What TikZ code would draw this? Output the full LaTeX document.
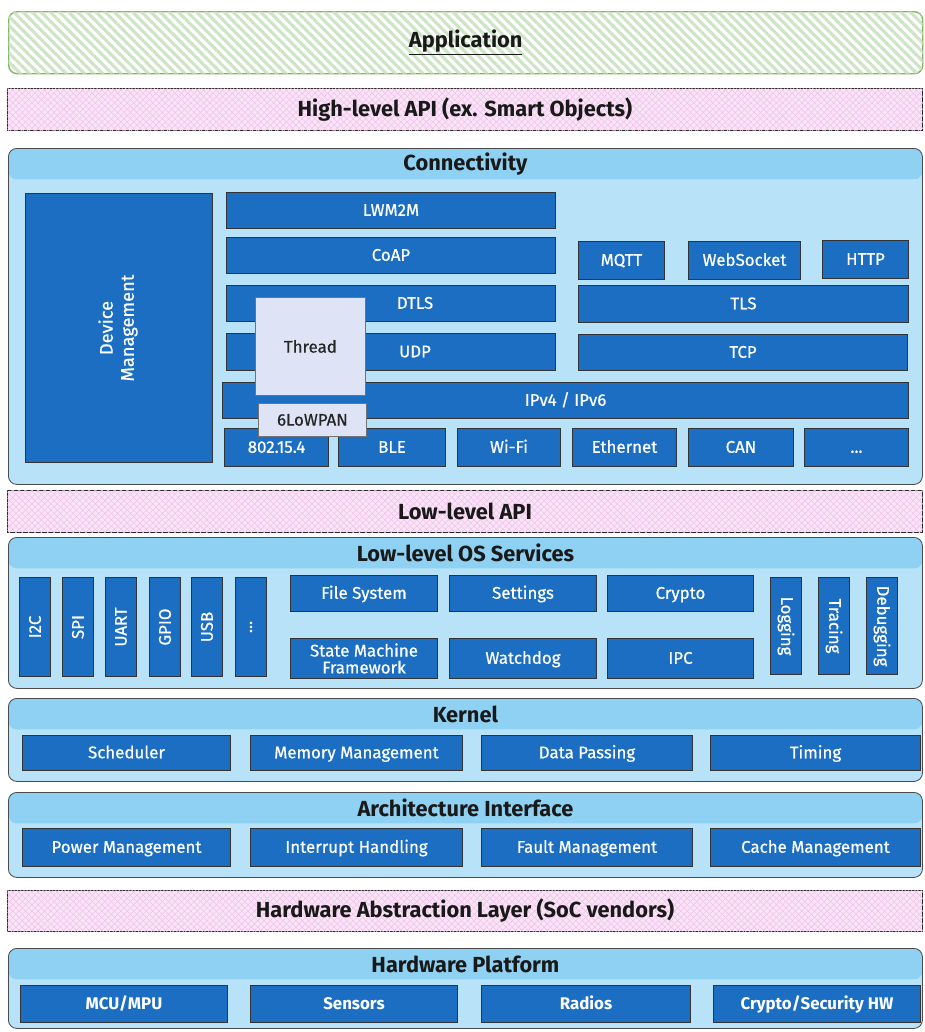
\documentclass[tikz,border=0pt]{standalone}
\usepackage{fontspec}
\setmainfont{Fira Sans}
\newfontfamily\medfont{Fira Sans}[FakeBold=0.6]
\usepackage{graphicx}
\usetikzlibrary{patterns.meta}
\definecolor{boxblue}{HTML}{1B6EC2}
\definecolor{layerblue}{HTML}{B8E2F7}
\definecolor{layerhead}{HTML}{8FD1F2}
\definecolor{apipink}{HTML}{FBE4F8}
\definecolor{apiline}{HTML}{EEC4E8}
\definecolor{appgreen}{HTML}{CDE5C5}
\definecolor{appedge}{HTML}{82B366}
\definecolor{threadfill}{HTML}{DEE4F5}

\begin{document}
\begin{tikzpicture}[x=0.025cm, y=-0.025cm,
	spot/.style args={#1/#2/#3/#4}{anchor=north west, at={(#1,#2)},
		minimum width={(#3-#1)*0.025cm}, minimum height={(#4-#2)*0.025cm}},
	blk/.style={draw=black!80, line width=0.7pt, fill=boxblue, text=white, inner sep=0pt,
		font=\medfont\fontsize{12}{13}\selectfont, align=center, text height=0.9em, text depth=0.15em},
	vblk/.style={blk, text height=, text depth=},
	hwblk/.style={blk, font=\bfseries\fontsize{12}{13}\selectfont},
	lite/.style={draw=black!55, line width=0.6pt, fill=threadfill, text=black!85, inner sep=0pt,
		font=\medfont\fontsize{12}{13}\selectfont},
	layer/.style={draw=black!70, line width=0.6pt, fill=layerblue, rounded corners=6pt, inner sep=0pt,
		path picture={\fill[layerhead] ([yshift=-0.775cm]path picture bounding box.north west)
			rectangle (path picture bounding box.north east);}},
	ttl/.style={font=\bfseries\fontsize{15.5}{18}\selectfont, text=black!90},
	api/.style={draw=black!85, line width=0.7pt, fill=apipink, inner sep=0pt,
		postaction={pattern={Lines[angle=45,distance=3.2pt,line width=0.4pt]}, pattern color=apiline},
		postaction={pattern={Lines[angle=-45,distance=3.2pt,line width=0.4pt]}, pattern color=apiline},
		font=\bfseries\fontsize{15.5}{18}\selectfont, text=black!90},
	appbox/.style={draw=appedge, line width=1pt, rounded corners=6pt, fill=white, inner sep=0pt,
		postaction={pattern={Lines[angle=-45,distance=4.6pt,line width=2.2pt]}, pattern color=appgreen},
		font=\bfseries\fontsize{15.5}{18}\selectfont, text=black!90}]
\useasboundingbox (0,0) rectangle (925,1032);

% top layers
\node[appbox, spot=8/11/922/73] (app) {\underline{Application}};
\node[api, spot=7/88/922/130] (hlapi) {High-level API (ex. Smart Objects)};

% connectivity
\node[layer, spot=8/148/922/484] (conn) {};
\node[ttl] (conntitle) at ([yshift=-0.4cm]conn.north) {Connectivity};
\node[vblk, spot=25/193/212/462, font=\medfont\fontsize{13}{15}\selectfont] (devmgmt)
	{\rotatebox{90}{\begin{tabular}{c}Device\\Management\end{tabular}}};
\node[blk, spot=226/192/555/228] (lwm2m) {LWM2M};
\node[blk, spot=226/237/555/273] (coap) {CoAP};
\node[blk, spot=226/285/555/321] (dtls) {\hspace*{1.2cm}DTLS};
\node[blk, spot=226/333/555/370] (udp) {\hspace*{1.2cm}UDP};
\node[blk, spot=578/241/664/279] (mqtt) {MQTT};
\node[blk, spot=688/241/800/279] (websock) {WebSocket};
\node[blk, spot=822/240/908/278] (http) {HTTP};
\node[blk, spot=578/285/908/322] (tls) {TLS};
\node[blk, spot=578/334/907/370] (tcp) {TCP};
\node[blk, spot=222/382/908/418] (ip) {IPv4 / IPv6};
\foreach \nm/\xa/\xb/\txt in {ieee/224/328/{802.15.4}, ble/338/445/BLE, wifi/457/560/Wi-Fi,
	eth/572/676/Ethernet, can/688/793/CAN, linkmore/804/908/{...}}
	\node[blk, spot=\xa/428/\xb/466] (\nm) {\txt};
\node[lite, spot=255/297/365/395] (thread) {Thread};
\node[lite, spot=258/403/366/436] (lowpan) {6LoWPAN};

% low-level API + OS services
\node[api, spot=7/490/922/532] (llapi) {Low-level API};
\node[layer, spot=8/537/922/688] (os) {};
\node[ttl] (ostitle) at ([yshift=-0.4cm]os.north) {Low-level OS Services};
\foreach \nm/\xa/\txt in {i2c/19/I2C, spi/62/SPI, uart/105/UART, gpio/149/GPIO, usb/191/USB, drvmore/235/{...}}
	\node[vblk, spot=\xa/577/\xa+31/676] (\nm) {\rotatebox{90}{\txt}};
\node[blk, spot=290/575/437/611] (fs) {File System};
\node[blk, spot=449/575/596/611] (settings) {Settings};
\node[blk, spot=607/575/753/611] (crypto) {Crypto};
\node[vblk, spot=290/638/437/678] (smf) {State Machine\\[-1pt]Framework};
\node[blk, spot=449/638/596/678] (wdog) {Watchdog};
\node[blk, spot=607/638/753/678] (ipc) {IPC};
\foreach \nm/\xa/\txt in {logging/770/Logging, tracing/818/Tracing, debugging/866/Debugging}
	\node[vblk, spot=\xa/577/\xa+31/674] (\nm) {\rotatebox{-90}{\txt}};

% kernel
\node[layer, spot=8/698/922/781] (kernel) {};
\node[ttl] (kerneltitle) at ([yshift=-0.4cm]kernel.north) {Kernel};
\foreach \nm/\xa/\xb/\txt in {sched/22/230/Scheduler, memmgmt/250/462/Memory Management,
	datapass/481/692/Data Passing, timing/710/920/Timing}
	\node[blk, spot=\xa/735/\xb/770] (\nm) {\txt};

% architecture interface
\node[layer, spot=8/792/922/877] (arch) {};
\node[ttl] (archtitle) at ([yshift=-0.4cm]arch.north) {Architecture Interface};
\foreach \nm/\xa/\xb/\txt in {power/22/230/Power Management, irq/250/462/Interrupt Handling,
	fault/481/692/Fault Management, cache/710/920/Cache Management}
	\node[blk, spot=\xa/828/\xb/866] (\nm) {\txt};

% HAL + hardware
\node[api, spot=7/890/922/931] (hal) {Hardware Abstraction Layer (SoC vendors)};
\node[layer, spot=8/948/922/1028] (hw) {};
\node[ttl] (hwtitle) at ([yshift=-0.4cm]hw.north) {Hardware Platform};
\foreach \nm/\xa/\xb/\txt in {mcu/20/227/{MCU/MPU}, sensors/250/457/Sensors,
	radios/481/690/Radios, sechw/713/920/{Crypto/Security HW}}
	\node[hwblk, spot=\xa/985/\xb/1022] (\nm) {\txt};
\end{tikzpicture}
\end{document}
